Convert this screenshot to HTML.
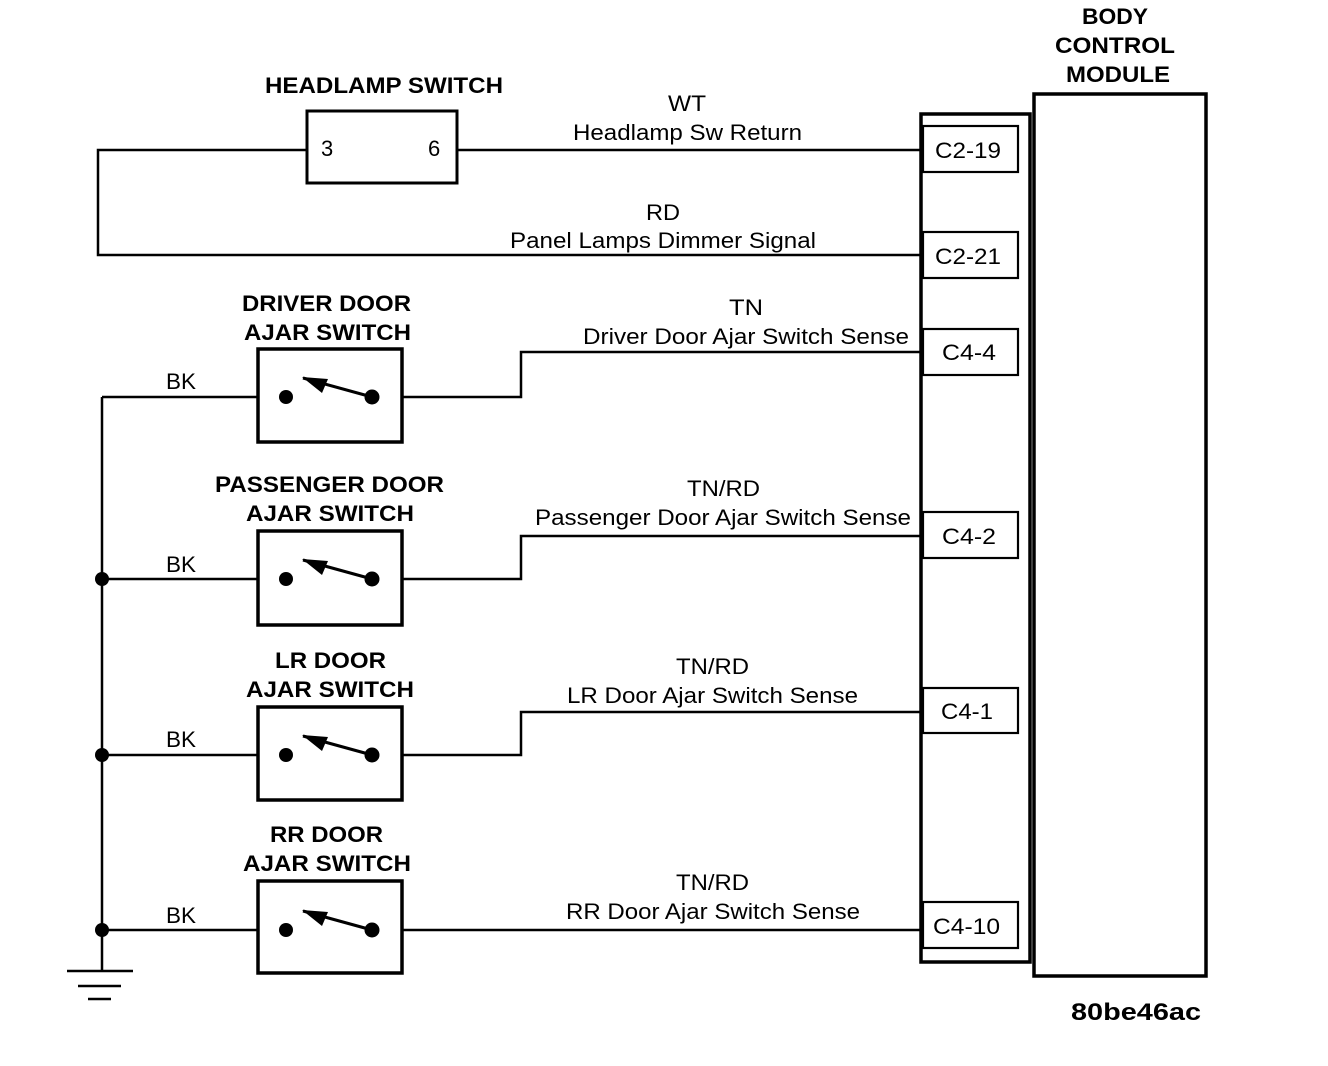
<!DOCTYPE html>
<html><head><meta charset="utf-8"><style>
html,body{margin:0;padding:0;background:#fff;}
svg{display:block;}
text{font-family:"Liberation Sans",Arial,sans-serif;fill:#000;}
.b{font-weight:bold;font-size:22px;}
.t{font-size:22px;}
</style></head><body>
<svg width="1328" height="1066" viewBox="0 0 1328 1066" xmlns="http://www.w3.org/2000/svg">
<g fill="none" stroke="#000">
<rect x="1034" y="94" width="172" height="882" stroke-width="3.5"/>
<rect x="921" y="114" width="109" height="848" stroke-width="3.5"/>
<g stroke-width="2.2">
<rect x="923" y="126" width="95" height="46"/>
<rect x="923" y="232" width="95" height="46"/>
<rect x="923" y="329" width="95" height="46"/>
<rect x="923" y="512" width="95" height="46"/>
<rect x="923" y="688" width="95" height="45"/>
<rect x="923" y="902" width="95" height="46"/>
</g>
<rect x="307" y="111" width="150" height="72" stroke-width="3"/>
<g stroke-width="2.5">
<path d="M457 150H921"/>
<path d="M307 150H98V255H921"/>
<path d="M402 397H521V352H921"/>
<path d="M402 579H521V536H921"/>
<path d="M402 755H521V712H921"/>
<path d="M402 930H921"/>
<path d="M102 397H257M102 579H257M102 755H257M102 930H257"/>
<path d="M102 397V971"/>
<path d="M67 971H133M78 986H121M88 999H111"/>
</g>
<g stroke-width="3.5">
<rect x="258" y="349" width="144" height="93"/>
<rect x="258" y="531" width="144" height="94"/>
<rect x="258" y="707" width="144" height="93"/>
<rect x="258" y="881" width="144" height="92"/>
</g>
</g>
<g fill="#000">
<circle cx="102" cy="579" r="7"/><circle cx="102" cy="755" r="7"/><circle cx="102" cy="930" r="7"/>
<g id="sw">
<circle cx="286" cy="397" r="7"/><circle cx="372" cy="397" r="7.5"/>
<path d="M372 397L303 378" stroke="#000" stroke-width="3"/>
<path d="M302 377L328 379L322 393Z"/>
</g>
<use href="#sw" y="182"/><use href="#sw" y="358"/><use href="#sw" y="533"/>
</g>
<g lengthAdjust="spacingAndGlyphs">
<text class="b" x="1082" y="24" textLength="66" lengthAdjust="spacingAndGlyphs">BODY</text>
<text class="b" x="1055" y="53" textLength="120" lengthAdjust="spacingAndGlyphs">CONTROL</text>
<text class="b" x="1066" y="82" textLength="104" lengthAdjust="spacingAndGlyphs">MODULE</text>
<text class="b" x="265" y="93" textLength="238" lengthAdjust="spacingAndGlyphs">HEADLAMP SWITCH</text>
<text class="t" x="321" y="156">3</text>
<text class="t" x="428" y="156">6</text>
<text class="t" x="668" y="111" textLength="38" lengthAdjust="spacingAndGlyphs">WT</text>
<text class="t" x="573" y="140" textLength="229" lengthAdjust="spacingAndGlyphs">Headlamp Sw Return</text>
<text class="t" x="646" y="220" textLength="34" lengthAdjust="spacingAndGlyphs">RD</text>
<text class="t" x="510" y="248" textLength="306" lengthAdjust="spacingAndGlyphs">Panel Lamps Dimmer Signal</text>
<text class="t" x="729" y="315" textLength="34" lengthAdjust="spacingAndGlyphs">TN</text>
<text class="t" x="583" y="344" textLength="326" lengthAdjust="spacingAndGlyphs">Driver Door Ajar Switch Sense</text>
<text class="t" x="687" y="496" textLength="73" lengthAdjust="spacingAndGlyphs">TN/RD</text>
<text class="t" x="535" y="525" textLength="376" lengthAdjust="spacingAndGlyphs">Passenger Door Ajar Switch Sense</text>
<text class="t" x="676" y="674" textLength="73" lengthAdjust="spacingAndGlyphs">TN/RD</text>
<text class="t" x="567" y="703" textLength="291" lengthAdjust="spacingAndGlyphs">LR Door Ajar Switch Sense</text>
<text class="t" x="676" y="890" textLength="73" lengthAdjust="spacingAndGlyphs">TN/RD</text>
<text class="t" x="566" y="919" textLength="294" lengthAdjust="spacingAndGlyphs">RR Door Ajar Switch Sense</text>
<text class="t" x="935" y="158" textLength="66" lengthAdjust="spacingAndGlyphs">C2-19</text>
<text class="t" x="935" y="264" textLength="66" lengthAdjust="spacingAndGlyphs">C2-21</text>
<text class="t" x="942" y="360" textLength="54" lengthAdjust="spacingAndGlyphs">C4-4</text>
<text class="t" x="942" y="544" textLength="54" lengthAdjust="spacingAndGlyphs">C4-2</text>
<text class="t" x="941" y="719" textLength="52" lengthAdjust="spacingAndGlyphs">C4-1</text>
<text class="t" x="933" y="934" textLength="67" lengthAdjust="spacingAndGlyphs">C4-10</text>
<text class="b" x="242" y="311" textLength="169" lengthAdjust="spacingAndGlyphs">DRIVER DOOR</text>
<text class="b" x="244" y="340" textLength="167" lengthAdjust="spacingAndGlyphs">AJAR SWITCH</text>
<text class="b" x="215" y="492" textLength="229" lengthAdjust="spacingAndGlyphs">PASSENGER DOOR</text>
<text class="b" x="246" y="521" textLength="168" lengthAdjust="spacingAndGlyphs">AJAR SWITCH</text>
<text class="b" x="275" y="668" textLength="111" lengthAdjust="spacingAndGlyphs">LR DOOR</text>
<text class="b" x="246" y="697" textLength="168" lengthAdjust="spacingAndGlyphs">AJAR SWITCH</text>
<text class="b" x="270" y="842" textLength="113" lengthAdjust="spacingAndGlyphs">RR DOOR</text>
<text class="b" x="243" y="871" textLength="168" lengthAdjust="spacingAndGlyphs">AJAR SWITCH</text>
<text class="t" x="166" y="389" textLength="30" lengthAdjust="spacingAndGlyphs">BK</text>
<text class="t" x="166" y="572" textLength="30" lengthAdjust="spacingAndGlyphs">BK</text>
<text class="t" x="166" y="747" textLength="30" lengthAdjust="spacingAndGlyphs">BK</text>
<text class="t" x="166" y="923" textLength="30" lengthAdjust="spacingAndGlyphs">BK</text>
<text class="b" x="1071" y="1020" style="font-size:24px" textLength="130" lengthAdjust="spacingAndGlyphs">80be46ac</text>
</g>
</svg>
</body></html>
